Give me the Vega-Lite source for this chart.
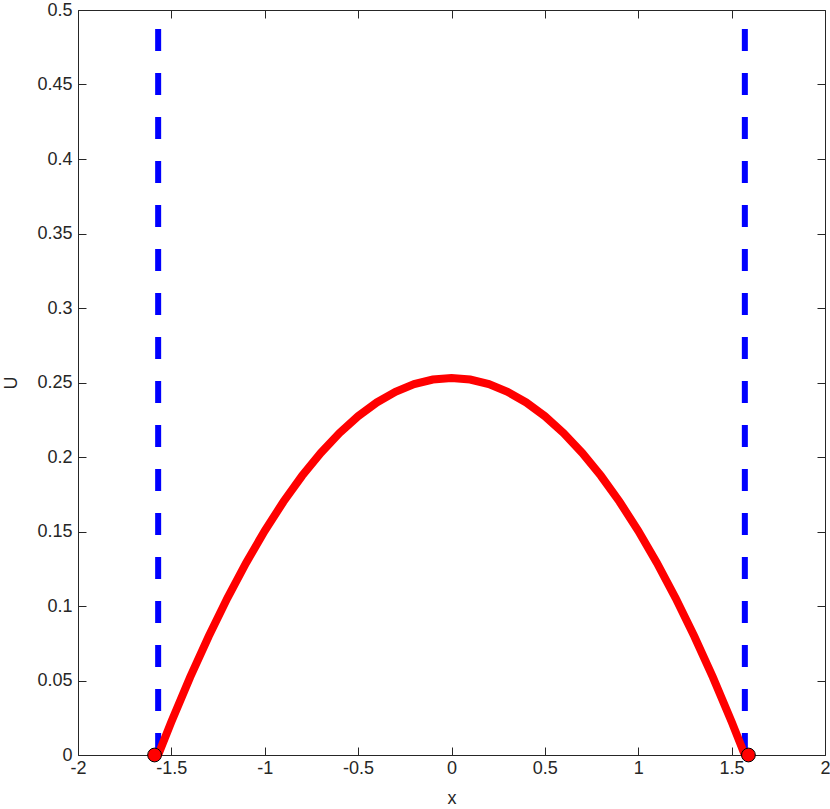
{
  "$schema": "https://vega.github.io/schema/vega-lite/v6.json",
  "width": 747,
  "height": 745,
  "autosize": "none",
  "padding": {"left": 78, "top": 10, "right": 5, "bottom": 54},
  "background": "white",
  "config": {
    "view": {"stroke": null},
    "axis": {
      "domainColor": "#262626",
      "domainWidth": 1,
      "tickColor": "#262626",
      "tickWidth": 1,
      "tickSize": -8,
      "grid": false,
      "labelFont": "Liberation Sans",
      "labelFontSize": 18,
      "labelColor": "#262626",
      "titleFont": "Liberation Sans",
      "titleFontSize": 18,
      "titleFontWeight": "normal",
      "titleColor": "#262626"
    }
  },
  "datasets": {
    "walls": [
      {"xv": -1.5708, "ylo": 0, "yhi": 0.5},
      {"xv": 1.5708, "ylo": 0, "yhi": 0.5}
    ],
    "curve": [
      {"x": -1.5708, "u": 0},
      {"x": -1.5, "u": 0.02229},
      {"x": -1.4, "u": 0.05203},
      {"x": -1.3, "u": 0.07971},
      {"x": -1.2, "u": 0.10535},
      {"x": -1.1, "u": 0.12893},
      {"x": -1.0, "u": 0.15046},
      {"x": -0.9, "u": 0.16995},
      {"x": -0.8, "u": 0.18738},
      {"x": -0.7, "u": 0.20275},
      {"x": -0.6, "u": 0.21609},
      {"x": -0.5, "u": 0.22737},
      {"x": -0.4, "u": 0.2366},
      {"x": -0.3, "u": 0.24377},
      {"x": -0.2, "u": 0.2489},
      {"x": -0.1, "u": 0.25198},
      {"x": 0, "u": 0.253},
      {"x": 0.1, "u": 0.25198},
      {"x": 0.2, "u": 0.2489},
      {"x": 0.3, "u": 0.24377},
      {"x": 0.4, "u": 0.2366},
      {"x": 0.5, "u": 0.22737},
      {"x": 0.6, "u": 0.21609},
      {"x": 0.7, "u": 0.20275},
      {"x": 0.8, "u": 0.18738},
      {"x": 0.9, "u": 0.16995},
      {"x": 1.0, "u": 0.15046},
      {"x": 1.1, "u": 0.12893},
      {"x": 1.2, "u": 0.10535},
      {"x": 1.3, "u": 0.07971},
      {"x": 1.4, "u": 0.05203},
      {"x": 1.5, "u": 0.02229},
      {"x": 1.5708, "u": 0}
    ],
    "dots": [
      {"x": -1.59, "u": 0},
      {"x": 1.59, "u": 0}
    ]
  },
  "resolve": {"axis": {"x": "independent", "y": "independent"}},
  "layer": [
    {
      "data": {"name": "walls"},
      "mark": {"type": "rule", "color": "#0000ff", "strokeWidth": 6, "strokeDash": [22, 22]},
      "encoding": {
        "x": {
          "field": "xv", "type": "quantitative",
          "scale": {"domain": [-2, 2], "nice": false, "zero": false},
          "axis": {"orient": "bottom", "title": "x", "values": [-2, -1.5, -1, -0.5, 0, 0.5, 1, 1.5, 2], "labelExpr": "'' + datum.value", "labelPadding": 12, "titlePadding": 12, "labelFlush": false}
        },
        "y": {
          "field": "ylo", "type": "quantitative",
          "scale": {"domain": [0, 0.5], "nice": false},
          "axis": {"orient": "left", "title": "U", "values": [0, 0.05, 0.1, 0.15, 0.2, 0.25, 0.3, 0.35, 0.4, 0.45, 0.5], "labelExpr": "'' + datum.value", "labelPadding": 14, "titlePadding": 16, "labelFlush": false}
        },
        "y2": {"field": "yhi"}
      }
    },
    {
      "data": {"name": "curve"},
      "mark": {"type": "line", "color": "#ff0000", "strokeWidth": 8},
      "encoding": {
        "x": {
          "field": "x", "type": "quantitative",
          "axis": {"orient": "top", "title": null, "labels": false, "values": [-2, -1.5, -1, -0.5, 0, 0.5, 1, 1.5, 2]}
        },
        "y": {
          "field": "u", "type": "quantitative",
          "axis": {"orient": "right", "title": null, "labels": false, "values": [0, 0.05, 0.1, 0.15, 0.2, 0.25, 0.3, 0.35, 0.4, 0.45, 0.5]}
        }
      }
    },
    {
      "data": {"name": "dots"},
      "mark": {"type": "circle", "fill": "#ff0000", "stroke": "#000000", "strokeWidth": 1, "size": 190, "opacity": 1},
      "encoding": {
        "x": {"field": "x", "type": "quantitative", "axis": null},
        "y": {"field": "u", "type": "quantitative", "axis": null}
      }
    }
  ]
}
